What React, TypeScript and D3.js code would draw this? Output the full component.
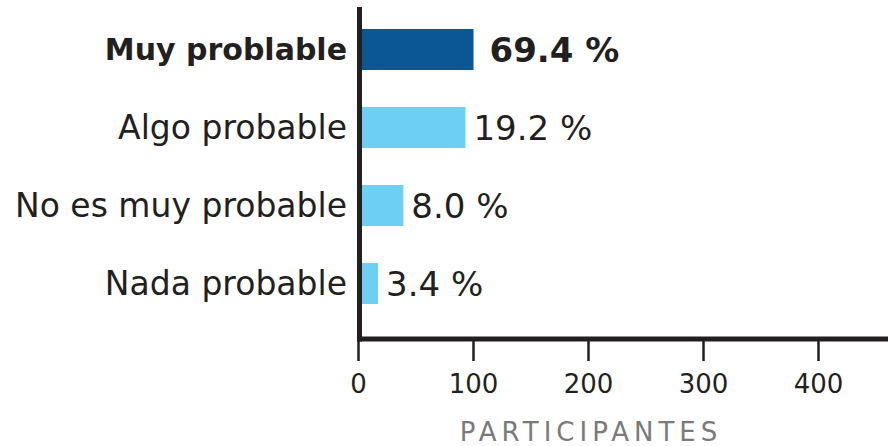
import { useEffect, useRef } from "react"
import * as d3 from "d3"

const categories = ["Muy problable", "Algo probable", "No es muy probable", "Nada probable"]
const participants = [100, 93, 39, 17]
const percentLabels = ["69.4 %", "19.2 %", "8.0 %", "3.4 %"]
const highlighted = [true, false, false, false]
const xTicks = [0, 100, 200, 300, 400]
const xTitle = "PARTICIPANTES"

const FONT = "'DejaVu Sans', sans-serif"
const INK = "#231f20"

export default function App() {
  const svgRef = useRef<SVGSVGElement>(null)

  useEffect(() => {
    if (!svgRef.current) return
    const width = 888
    const height = 446

    const svg = d3.select(svgRef.current).attr("width", width).attr("height", height)
    svg.selectAll("*").remove()

    const x = d3.scaleLinear().domain([0, 460]).range([358.5, 887.5])
    const y = d3.scaleBand().domain(categories).range([10.5, 322.5]).paddingInner(0.474).paddingOuter(0.237)

    const rows = categories.map((c, i) => ({
      cat: c,
      value: participants[i],
      label: percentLabels[i],
      bold: highlighted[i],
    }))

    // bars
    svg
      .append("g")
      .selectAll("rect")
      .data(rows)
      .enter()
      .append("rect")
      .attr("x", x(0))
      .attr("y", (d) => y(d.cat) as number)
      .attr("width", (d) => x(d.value) - x(0))
      .attr("height", y.bandwidth())
      .attr("fill", (d) => (d.bold ? "#0b5796" : "#6ccff3"))

    // category labels
    svg
      .append("g")
      .selectAll("text")
      .data(rows)
      .enter()
      .append("text")
      .attr("x", 347)
      .attr("y", (d) => (y(d.cat) as number) + y.bandwidth() / 2)
      .attr("text-anchor", "end")
      .attr("dominant-baseline", "central")
      .style("font-family", FONT)
      .style("font-size", (d) => (d.bold ? "30px" : "33px"))
      .style("font-weight", (d) => (d.bold ? "bold" : "normal"))
      .style("fill", INK)
      .text((d) => d.cat)

    // value labels
    svg
      .append("g")
      .selectAll("text")
      .data(rows)
      .enter()
      .append("text")
      .attr("x", (d) => x(d.value) + (d.bold ? 16 : 8))
      .attr("y", (d) => (y(d.cat) as number) + y.bandwidth() / 2)
      .attr("dominant-baseline", "central")
      .style("font-family", FONT)
      .style("font-size", "34px")
      .style("font-weight", (d) => (d.bold ? "bold" : "normal"))
      .style("fill", INK)
      .text((d) => d.label)

    // axes
    svg
      .append("line")
      .attr("x1", 359.5)
      .attr("x2", 359.5)
      .attr("y1", 7)
      .attr("y2", 341.5)
      .attr("stroke", INK)
      .attr("stroke-width", 5)

    svg
      .append("line")
      .attr("x1", 357)
      .attr("x2", width)
      .attr("y1", 339)
      .attr("y2", 339)
      .attr("stroke", INK)
      .attr("stroke-width", 5)

    const ticks = svg.append("g")
    ticks
      .selectAll("line")
      .data(xTicks)
      .enter()
      .append("line")
      .attr("x1", (d) => x(d))
      .attr("x2", (d) => x(d))
      .attr("y1", 341)
      .attr("y2", 361)
      .attr("stroke", INK)
      .attr("stroke-width", 2.5)

    ticks
      .selectAll("text")
      .data(xTicks)
      .enter()
      .append("text")
      .attr("x", (d) => x(d))
      .attr("y", 384)
      .attr("text-anchor", "middle")
      .attr("dominant-baseline", "central")
      .style("font-family", FONT)
      .style("font-size", "26px")
      .style("fill", INK)
      .text((d) => String(d))

    svg
      .append("text")
      .attr("x", (x(0) + x(400)) / 2 + 2.5)
      .attr("y", 432)
      .attr("text-anchor", "middle")
      .attr("dominant-baseline", "central")
      .style("font-family", FONT)
      .style("font-size", "26px")
      .style("letter-spacing", "5px")
      .style("fill", "#7a7a7a")
      .text(xTitle)
  }, [])

  return (
    <div style={{ position: "absolute", left: 0, top: 0 }}>
      <svg ref={svgRef} style={{ display: "block" }}></svg>
    </div>
  )
}
